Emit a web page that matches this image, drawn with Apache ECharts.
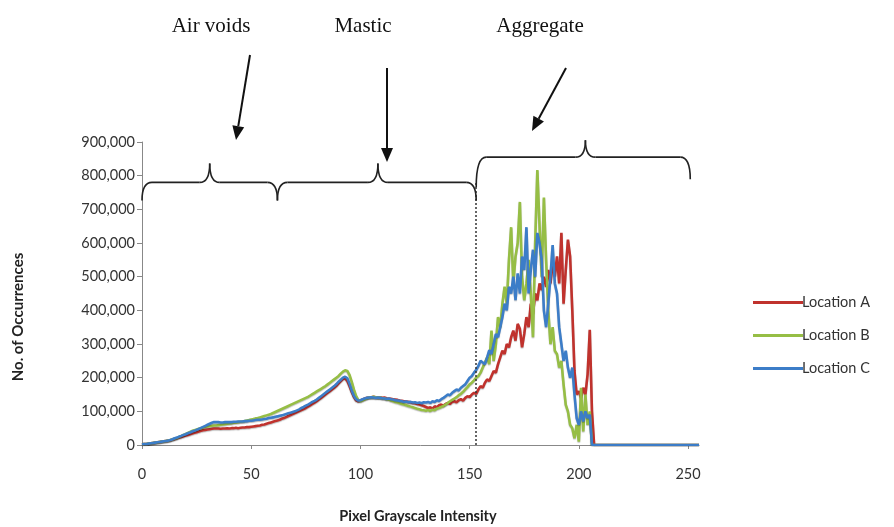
<!DOCTYPE html>
<html>
<head>
<meta charset="utf-8">
<script src="https://cdn.jsdelivr.net/npm/echarts@6/dist/echarts.min.js"></script>
<style>html,body{margin:0;padding:0;background:#fff}#c{width:894px;height:527px}</style>
</head>
<body>
<div id="c"></div>
<script>
// Pixel grayscale intensity 0..255; counts in thousands
const xTicks = [0, 50, 100, 150, 200, 250];
const seriesNames = ['Location A', 'Location B', 'Location C'];
const locA = [
2,3,3,4,5,6,7,8,9,10, 11,12,13,14,16,18,20,22,24,26, 28,30,32,34,36,38,40,42,44,45, 46,47,48,49,49,49,48,49,49,50,
49,50,50,51,50,51,52,52,53,53, 54,55,56,57,58,60,61,63,65,67, 69,71,73,75,78,80,83,86,89,92, 95,98,101,104,107,110,114,118,122,126,
130,135,140,145,150,155,160,165,170,176, 183,190,196,198,190,175,158,143,133,130, 132,135,138,140,141,142,143,142,141,142, 140,141,139,138,137,136,135,134,132,131,
130,129,128,127,125,124,122,120,118,116, 113,110,112,108,115,112,118,120,117,122, 125,122,128,130,127,133,136,132,140,145, 142,150,155,152,165,175,170,185,195,190,
205,220,215,240,260,280,270,300,290,320, 340,310,360,345,290,330,380,350,420,390, 450,430,480,460,500,470,520,480,540,500, 560,480,630,420,520,610,560,400,220,150,
160,140,170,150,210,342,100,0,0,0, 0,0,0,0,0,0,0,0,0,0, 0,0,0,0,0,0,0,0,0,0, 0,0,0,0,0,0,0,0,0,0,
0,0,0,0,0,0,0,0,0,0, 0,0,0,0,0,0
];
const locB = [
2,3,3,4,5,6,7,8,9,10, 11,12,13,15,17,19,21,24,27,30, 33,36,39,42,44,46,48,50,52,54, 55,56,57,58,58,59,60,61,62,63,
64,65,66,67,68,69,70,71,73,74, 76,77,79,80,82,84,86,88,90,92, 95,98,101,104,107,110,113,116,119,122, 125,128,131,134,137,140,143,147,151,155,
159,163,167,171,175,180,185,190,195,200, 205,212,218,222,220,208,188,165,146,134, 130,133,136,139,141,142,143,142,140,141, 139,138,136,135,132,130,128,126,124,122,
120,118,116,114,112,110,108,106,104,103, 102,104,101,105,103,108,110,113,116,120, 125,130,134,138,142,148,152,158,165,172, 180,185,192,200,205,215,230,245,260,240,
340,250,300,380,350,420,470,420,550,647, 480,560,600,722,500,430,480,550,450,320, 600,817,650,500,735,550,400,300,350,280, 270,230,250,180,120,100,60,50,20,60,
10,170,40,150,60,100,0,0,0,0, 0,0,0,0,0,0,0,0,0,0, 0,0,0,0,0,0,0,0,0,0, 0,0,0,0,0,0,0,0,0,0,
0,0,0,0,0,0,0,0,0,0, 0,0,0,0,0,0
];
const locC = [
2,3,3,4,5,6,7,8,9,10, 11,12,13,15,17,20,22,25,27,30, 32,35,37,40,42,45,48,51,54,57, 60,63,66,68,68,68,67,67,68,68,
68,68,69,69,70,70,70,71,71,72, 72,73,74,75,75,76,77,78,80,81, 82,84,85,87,88,90,92,94,96,98, 100,103,106,110,113,117,120,124,128,131,
135,140,145,150,155,160,165,170,175,181, 188,194,200,203,198,182,162,146,136,132, 133,136,138,140,141,142,141,140,141,140, 139,138,137,138,136,135,133,132,131,130,
128,129,127,128,126,127,125,126,124,127, 126,128,125,130,128,133,131,136,140,145, 150,148,155,160,165,162,170,175,180,190, 200,205,215,223,235,250,245,240,260,282,
270,300,330,320,350,380,420,400,470,450, 500,430,510,450,560,520,647,450,520,580, 500,630,600,550,400,350,420,500,594,480, 450,350,300,250,280,230,200,230,150,80,
60,100,70,100,80,90,0,0,0,0, 0,0,0,0,0,0,0,0,0,0, 0,0,0,0,0,0,0,0,0,0, 0,0,0,0,0,0,0,0,0,0,
0,0,0,0,0,0,0,0,0,0, 0,0,0,0,0,0
];
const boundaryX = 153;      // dotted separator between mastic and aggregate
const boundaryTop = 780000; // dotted separator top value

const colors = ['#C0322D', '#96BE45', '#3C7DC8'];
const raw = [locA, locB, locC];
const font = 'Lato, "Open Sans", sans-serif';

const chart = echarts.init(document.getElementById('c'), null, {renderer: 'canvas'});

const series = raw.map((arr, i) => ({
  name: seriesNames[i],
  type: 'line',
  data: arr.map((v, k) => [k, v * 1000]),
  showSymbol: false,
  symbol: 'none',
  lineStyle: {width: 2.6, color: colors[i], shadowColor: 'rgba(0,0,0,0.25)', shadowBlur: 1, shadowOffsetY: 1},
  itemStyle: {color: colors[i]},
  z: 2 + i,
  animation: false,
  markLine: i === 0 ? {
    silent: true, symbol: 'none', label: {show: false},
    lineStyle: {type: [2, 2], color: '#333', width: 1.5},
    data: [[{coord: [boundaryX, 0]}, {coord: [boundaryX, boundaryTop]}]]
  } : undefined
}));

chart.setOption({
  animation: false,
  backgroundColor: '#fff',
  grid: {left: 142, right: 195, top: 142, bottom: 82, containLabel: false},
  legend: {
    data: seriesNames,
    orient: 'vertical',
    left: 748, top: 290,
    icon: 'rect', itemWidth: 50, itemHeight: 3, itemGap: 18,
    textStyle: {fontFamily: font, fontSize: 14.5, color: '#333', padding: [0, 0, 0, -6]}
  },
  xAxis: {
    type: 'value', min: 0, max: 255, interval: 50,
    axisLine: {lineStyle: {color: '#888', width: 1}},
    axisTick: {show: true, customValues: xTicks, length: 4, lineStyle: {color: '#888'}},
    splitLine: {show: false},
    axisLabel: {
      margin: 22, fontFamily: font, fontSize: 14.5, color: '#333',
      customValues: xTicks, formatter: v => String(v)
    }
  },
  yAxis: {
    type: 'value', min: 0, max: 900000, interval: 100000,
    axisLine: {show: true, lineStyle: {color: '#888', width: 1}},
    axisTick: {show: true, length: 5, lineStyle: {color: '#888'}},
    splitLine: {show: false},
    axisLabel: {
      margin: 7, fontFamily: font, fontSize: 14.5, color: '#333',
      formatter: v => v.toLocaleString('en-US')
    }
  },
  series: series
});

// Annotations (braces, arrows, labels)
function px(x, y) { return chart.convertToPixel({gridIndex: 0}, [x, y]); }
const stroke = {stroke: '#222', lineWidth: 1.6, fill: null};
function q(x1, y1, cx, cy, x2, y2) {
  return {type: 'bezierCurve', shape: {x1: x1, y1: y1, cpx1: cx, cpy1: cy, x2: x2, y2: y2}, style: stroke, z: 50};
}
function seg(x1, y1, x2, y2) {
  return {type: 'line', shape: {x1: x1, y1: y1, x2: x2, y2: y2}, style: stroke, z: 50};
}
function brace(x0, x1, xc, yv, h, d0, d1) {
  const a = px(x0, yv), b = px(x1, yv), c = px(xc, yv);
  const y = a[1], r = 10;
  return [
    q(a[0], y + d0, a[0], y, a[0] + r, y),
    seg(a[0] + r, y, c[0] - r, y),
    q(c[0] - r, y, c[0], y, c[0], y - h),
    q(c[0], y - h, c[0], y, c[0] + r, y),
    seg(c[0] + r, y, b[0] - r, y),
    q(b[0] - r, y, b[0], y, b[0], y + d1)
  ];
}
function arrow(x1, y1, x2, y2) {
  const ang = Math.atan2(y2 - y1, x2 - x1), L = 14, W = 6;
  const bx = x2 - L * Math.cos(ang), by = y2 - L * Math.sin(ang);
  const nx = -Math.sin(ang) * W, ny = Math.cos(ang) * W;
  return [
    {type: 'line', shape: {x1: x1, y1: y1, x2: bx, y2: by}, style: {stroke: '#111', lineWidth: 2}, z: 50},
    {type: 'polygon', shape: {points: [[x2, y2], [bx + nx, by + ny], [bx - nx, by - ny]]}, style: {fill: '#111'}, z: 50}
  ];
}
const serif = '"Liberation Serif", "DejaVu Serif", serif';
function label(text, x, y) {
  return {type: 'text', x: x, y: y, style: {text: text, font: '21px ' + serif, fill: '#111', textAlign: 'center', textVerticalAlign: 'middle'}, z: 50};
}
const g = [
  ...brace(0, 62, 31, 780000, 19, 18, 18),
  ...brace(62, 153, 108, 780000, 19, 18, 18),
  ...brace(153, 251, 203, 855000, 17, 30, 22),
  ...arrow(250, 55, 236, 140),
  ...arrow(387, 68, 387, 162),
  ...arrow(566, 68, 532, 131),
  label('Air voids', 211, 26),
  label('Mastic', 363, 26),
  label('Aggregate', 540, 26),
  {type: 'text', x: 18, y: 317, rotation: Math.PI / 2,
   style: {text: 'No. of Occurrences', font: 'bold 15px ' + font, fill: '#222', textAlign: 'center', textVerticalAlign: 'middle'}},
  {type: 'text', x: 418, y: 516,
   style: {text: 'Pixel Grayscale Intensity', font: 'bold 14.5px ' + font, fill: '#222', textAlign: 'center', textVerticalAlign: 'middle'}}
];
chart.setOption({graphic: g});
</script>
</body>
</html>
